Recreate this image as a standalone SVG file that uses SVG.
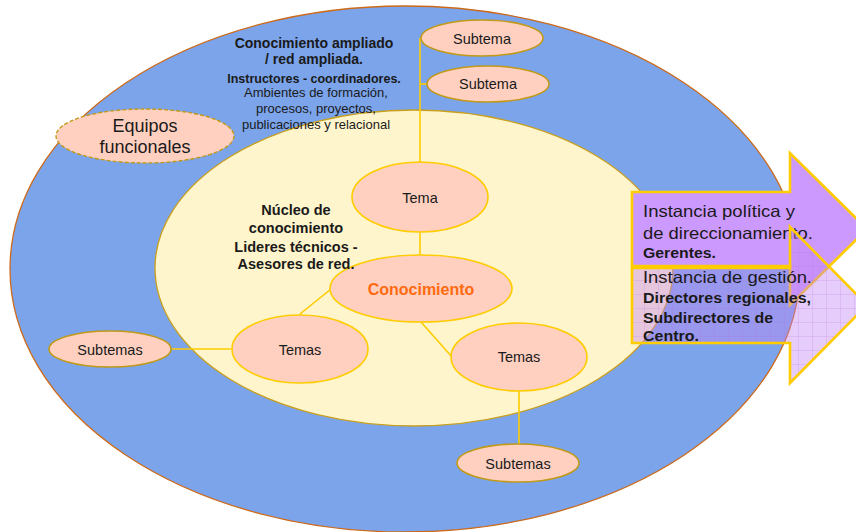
<svg xmlns="http://www.w3.org/2000/svg" width="856" height="532" viewBox="0 0 856 532">
<defs>
<pattern id="grid" width="14" height="14" patternUnits="userSpaceOnUse">
<rect width="14" height="14" fill="#C386F3" fill-opacity="0.42"/>
<path d="M0 0.5H14M0.5 0V14" stroke="#B070E0" stroke-opacity="0.18" stroke-width="1" fill="none"/>
</pattern>
<style>
text{font-family:"Liberation Sans",Arial,sans-serif;fill:#1a1a1a}
.c{text-anchor:middle}
.b{font-weight:bold}
.node{fill:#FFD0C0;stroke:#FFCC00;stroke-width:1.6}
.sub{fill:#FFD0C0;stroke:#C09A18;stroke-width:1.6}
.lbl{font-size:14.5px;text-anchor:middle}
.conn{stroke:#FFCC00;stroke-width:1.6;fill:none}
.arrow{stroke:#FFCC00;stroke-width:2.6;stroke-linejoin:miter}
</style>
</defs>

<g id="outer">
<ellipse cx="405" cy="269" rx="395" ry="263" fill="#7BA4EA" stroke="#CC6A1A" stroke-width="1.3"/>
</g>
<g id="inner">
<ellipse cx="414" cy="268" rx="259" ry="158" fill="#FFF5CC" stroke="#C8A020" stroke-width="1.3"/>
</g>

<g id="connectors">
<line class="conn" x1="420" y1="38" x2="420" y2="163"/>
<line class="conn" x1="420" y1="84" x2="427" y2="84"/>
<line class="conn" x1="420" y1="232" x2="420" y2="255"/>
<line class="conn" x1="331" y1="289" x2="300" y2="314"/>
<line class="conn" x1="421" y1="322" x2="452" y2="357"/>
<line class="conn" x1="172" y1="349" x2="231" y2="349"/>
<line class="conn" x1="519" y1="391" x2="519" y2="444"/>
</g>

<g id="equipos">
<ellipse cx="145" cy="136" rx="89" ry="27" fill="#FFD0C0" stroke="#C09A18" stroke-width="1.4" stroke-dasharray="4 2"/>
<text class="c" x="145" y="132" font-size="18">Equipos</text>
<text class="c" x="145" y="153" font-size="18">funcionales</text>
</g>

<g id="subtema1">
<ellipse class="sub" cx="482" cy="38" rx="61" ry="18"/>
<text class="lbl" x="482" y="44">Subtema</text>
</g>
<g id="subtema2">
<ellipse class="sub" cx="488" cy="84" rx="61" ry="18"/>
<text class="lbl" x="488" y="89">Subtema</text>
</g>
<g id="tema">
<ellipse class="node" cx="420" cy="197" rx="68" ry="35"/>
<text class="lbl" x="420" y="203">Tema</text>
</g>
<g id="conocimiento">
<ellipse class="node" cx="421" cy="288.5" rx="91" ry="33.5"/>
<text class="c b" x="421" y="295" font-size="16" style="fill:#FF6A10">Conocimiento</text>
</g>
<g id="temas-izq">
<ellipse class="node" cx="300" cy="349" rx="68" ry="34"/>
<text class="lbl" x="300" y="355">Temas</text>
</g>
<g id="temas-der">
<ellipse class="node" cx="519" cy="357" rx="68" ry="34"/>
<text class="lbl" x="519" y="362">Temas</text>
</g>
<g id="subtemas-izq">
<ellipse class="sub" cx="110" cy="349" rx="61" ry="18"/>
<text class="lbl" x="110" y="355">Subtemas</text>
</g>
<g id="subtemas-abajo">
<ellipse class="sub" cx="518" cy="463" rx="61" ry="19"/>
<text class="lbl" x="518" y="469">Subtemas</text>
</g>

<g id="texto-ampliado">
<text class="c b" x="314" y="48" font-size="14">Conocimiento ampliado</text>
<text class="c b" x="314" y="64" font-size="14">/ red ampliada.</text>
<text class="c b" x="314" y="83" font-size="12.5">Instructores - coordinadores.</text>
<text class="c" x="316" y="97" font-size="13">Ambientes de formación,</text>
<text class="c" x="316" y="113" font-size="13">procesos, proyectos,</text>
<text class="c" x="316" y="129" font-size="13">publicaciones y relacional</text>
</g>

<g id="texto-nucleo">
<text class="c b" x="296" y="215" font-size="14.5">Núcleo de</text>
<text class="c b" x="296" y="233" font-size="14.5">conocimiento</text>
<text class="c b" x="296" y="252" font-size="14.5">Lideres técnicos -</text>
<text class="c b" x="296" y="269" font-size="14.5">Asesores de red.</text>
</g>

<g id="instancia-politica">
<path class="arrow" d="M632 192H790V153L867 229L790 305V266H632Z" fill="#CC99FF"/>
<text x="643" y="217" font-size="16.5" textLength="152" lengthAdjust="spacingAndGlyphs">Instancia política y</text>
<text x="643" y="239" font-size="16.5" textLength="170" lengthAdjust="spacingAndGlyphs">de direccionamiento.</text>
<text class="b" x="643" y="258" font-size="14.5" textLength="73" lengthAdjust="spacingAndGlyphs">Gerentes.</text>
</g>
<g id="instancia-gestion">
<path class="arrow" d="M632 268H790V227L867 305L790 383V343H632Z" fill="url(#grid)"/>
<text x="643" y="283" font-size="16.5" textLength="169" lengthAdjust="spacingAndGlyphs">Instancia de gestión.</text>
<text class="b" x="643" y="303" font-size="14.5" textLength="168" lengthAdjust="spacingAndGlyphs">Directores regionales,</text>
<text class="b" x="643" y="323" font-size="14.5" textLength="130" lengthAdjust="spacingAndGlyphs">Subdirectores de</text>
<text class="b" x="643" y="341" font-size="14.5" textLength="56" lengthAdjust="spacingAndGlyphs">Centro.</text>
</g>
</svg>
